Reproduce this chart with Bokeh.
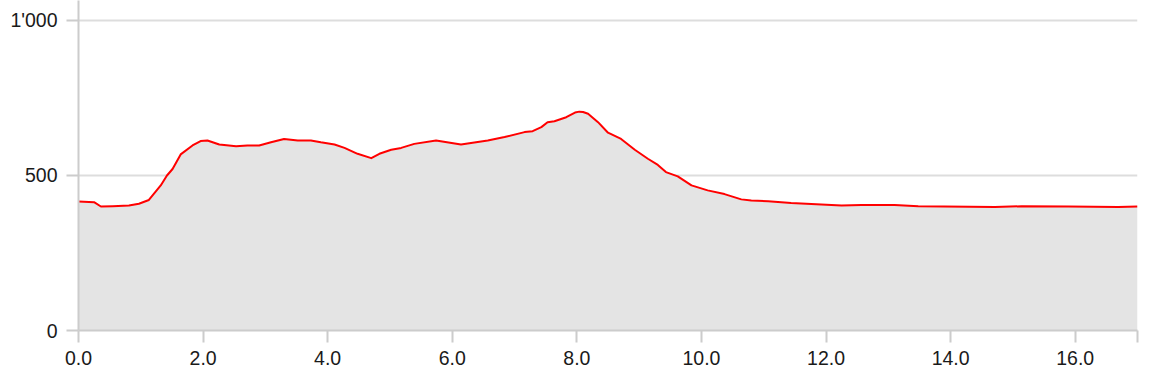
from bokeh.plotting import figure
from bokeh.models import FixedTicker, Range1d
from bokeh.embed import file_html
from bokeh.resources import INLINE

# distance (km) and elevation (m)
distance = [0.0, 0.25, 0.36, 0.55, 0.81, 0.97, 1.13, 1.32, 1.42, 1.51, 1.64, 1.83, 1.96, 2.07,
            2.26, 2.53, 2.71, 2.90, 3.09, 3.30, 3.52, 3.73, 3.89, 4.11, 4.27, 4.48, 4.70,
            4.83, 5.02, 5.18, 5.39, 5.74, 6.14, 6.57, 6.84, 7.16, 7.29, 7.43, 7.53, 7.64,
            7.83, 7.97, 8.04, 8.10, 8.18, 8.34, 8.50, 8.71, 8.93, 9.14, 9.30, 9.43, 9.62, 9.84, 10.10,
            10.37, 10.64, 10.80, 11.07, 11.44, 12.25, 12.57, 13.10, 13.48, 14.71, 15.14,
            15.89, 16.69, 17.0]
elevation = [416, 414, 400, 401, 403, 409, 421, 468, 500, 521, 568, 597, 611, 613,
             600, 594, 597, 597, 607, 618, 613, 613, 607, 600, 589, 570, 556,
             570, 583, 589, 602, 613, 600, 613, 624, 640, 643, 656, 672, 675,
             688, 703, 706, 705, 699, 672, 638, 618, 583, 554, 534, 511, 497, 468, 452,
             440, 423, 419, 417, 411, 403, 405, 405, 401, 398, 401,
             400, 398, 400]

x_ticks = [0, 2, 4, 6, 8, 10, 12, 14, 16, 17]
x_tick_labels = ["0.0", "2.0", "4.0", "6.0", "8.0", "10.0", "12.0", "14.0", "16.0", ""]
y_ticks = [0, 500, 1000]
y_tick_labels = ["0", "500", "1'000"]

p = figure(width=1155, height=383, output_backend="svg", toolbar_location=None,
           x_range=Range1d(0, 17.0), y_range=Range1d(0, 1064.5),
           min_border_left=78, min_border_right=18, min_border_top=0, min_border_bottom=53)
p.outline_line_color = None
p.background_fill_color = "white"
p.border_fill_color = "white"

p.varea(x=distance, y1=0, y2=elevation, fill_color="#e4e4e4")
p.line(x=distance, y=elevation, line_color="#ff0000", line_width=2, line_join="round")

font = "Liberation Sans"
fs = "19.5px"

p.xaxis.ticker = FixedTicker(ticks=x_ticks)
p.xaxis.major_label_overrides = {t: l for t, l in zip(x_ticks, x_tick_labels)}
p.yaxis.ticker = FixedTicker(ticks=y_ticks)
p.yaxis.major_label_overrides = {t: l for t, l in zip(y_ticks, y_tick_labels)}

for ax in (p.xaxis, p.yaxis):
    ax.axis_line_color = "#cccccc"
    ax.axis_line_width = 2
    ax.major_tick_line_color = "#cccccc"
    ax.major_tick_line_width = 2
    ax.major_tick_out = 12
    ax.major_tick_in = 0
    ax.minor_tick_line_color = None
    ax.major_label_text_font = font
    ax.major_label_text_font_size = fs
    ax.major_label_text_color = "#1a1a1a"

p.yaxis.major_label_standoff = 9
p.xaxis.major_label_standoff = 8

p.xgrid.grid_line_color = None
p.ygrid.ticker = FixedTicker(ticks=[500, 1000])
p.ygrid.grid_line_color = "#dddddd"
p.ygrid.grid_line_width = 2

open("out.html", "w").write(file_html(p, INLINE))
